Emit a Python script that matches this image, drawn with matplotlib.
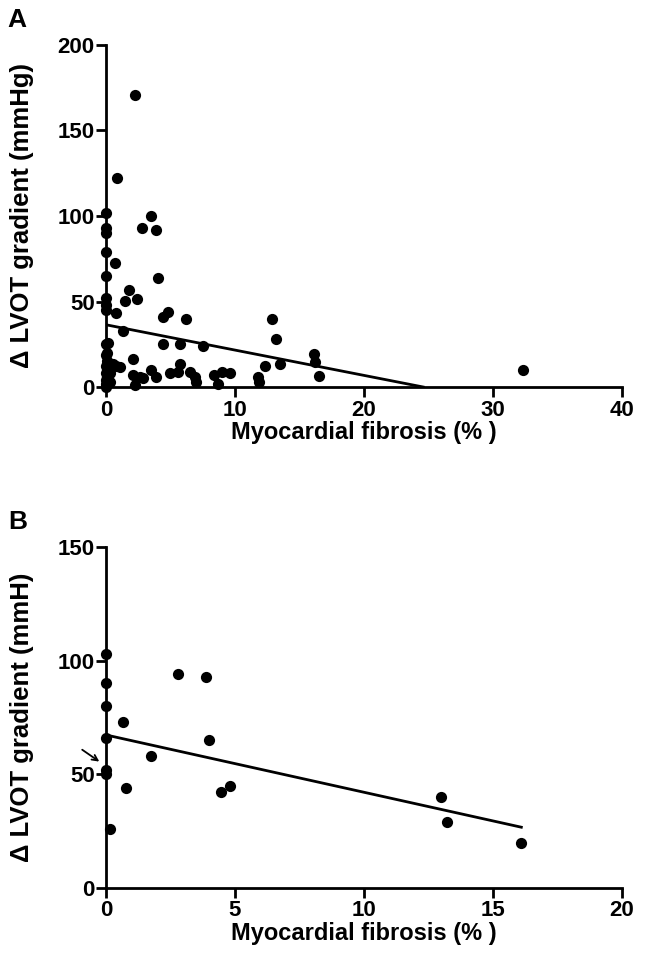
import numpy as np
import matplotlib
matplotlib.use("Agg")
import matplotlib.pyplot as plt

plt.rcParams['font.family'] = ['Liberation Sans', 'DejaVu Sans']

# === Panel A data: all patients ===
fibrosis_a = [2.25, 0.83, 0.0, 3.5, 2.8, 3.9, 0.0, 0.0, 0.0, 0.7, 0.0, 4.0, 1.8, 1.5, 2.4,
              0.0, 0.0, 0.0, 0.78, 4.4, 4.8, 6.2, 12.9, 13.2, 1.35, 0.0, 0.16, 4.4, 5.7, 7.5,
              0.0, 2.1, 0.2, 0.57, 1.1, 5.7, 12.3, 13.5, 2.1, 2.6, 2.9, 3.5, 3.9, 5.0,
              5.6, 6.5, 6.9, 7.0, 8.4, 9.0, 9.6, 8.7, 11.8, 11.9, 2.25, 16.1, 16.2, 16.5,
              32.3, 0.0, 0.0, 0.0, 0.1, 0.0, 0.2, 0.0, 0.1, 0.3, 0.3, 0.8, 0.1]
gradient_a = [171, 122, 102, 100, 93, 92, 93, 90, 79, 72.5, 65, 64, 57, 50.5, 51.5,
              52, 48, 45, 43, 41, 44, 40, 39.6, 28, 33, 25, 26, 25, 25, 24,
              18.5, 16.5, 14, 13.6, 11.7, 13.6, 12.3, 13.3, 7, 6, 5, 10, 6, 8.4,
              8.8, 8.8, 6, 3, 7, 8.8, 8.4, 2, 6, 3, 1, 19.5, 14.6, 6.4,
              10, 0, 2, 4, 6, 8, 10, 12, 15, 3, 8, 12, 20]

# === Panel B data: subgroup ===
fibrosis_b = [0.0, 0.0, 0.0, 0.0, 0.0, 0.0, 0.16, 0.65, 0.78, 1.74, 2.79, 3.89, 3.98,
              4.44, 4.82, 13.0, 13.2, 16.1]
gradient_b = [103, 90, 80, 66, 52, 50, 26, 73, 44, 58, 94, 93, 65, 42, 45, 40, 29, 20]

# regression lines (intercept, slope)
fit_a = (36.4, -1.48)
fit_b = (67.3, -2.52)


def style_axes(ax):
    for side in ['top', 'right']:
        ax.spines[side].set_visible(False)
    for side in ['left', 'bottom']:
        ax.spines[side].set_linewidth(2)
    ax.tick_params(direction='out', length=7, width=2, labelsize=16)
    ax.tick_params(axis='y', pad=1)
    ax.tick_params(axis='x', pad=2)
    for lab in ax.get_xticklabels() + ax.get_yticklabels():
        lab.set_fontweight('bold')


fig = plt.figure(figsize=(6.49, 9.69), dpi=100)

# === Panel A ===
axA = fig.add_axes([0.1633, 0.6006, 0.795, 0.353])
axA.scatter(fibrosis_a, gradient_a, s=65, color='black', zorder=3, clip_on=False, linewidths=0)
xa = np.array([0, min(max(fibrosis_a), -fit_a[0] / fit_a[1])])
axA.plot(xa, fit_a[0] + fit_a[1] * xa, color='black', lw=2)
axA.set_xlim(0, 40)
axA.set_ylim(0, 200)
axA.set_xticks([0, 10, 20, 30, 40])
axA.set_yticks([0, 50, 100, 150, 200])
style_axes(axA)
axA.set_xlabel("Myocardial fibrosis (% )", fontsize=17, fontweight='bold', va='top')
axA.xaxis.set_label_coords(0.5, -0.1)
axA.set_ylabel("\u0394 LVOT gradient (mmHg)", fontsize=18.5, fontweight='bold')
axA.yaxis.set_label_coords(-0.14, 0.5)
fig.text(0.012, 0.992, "A", fontsize=19, fontweight='bold', va='top')

# === Panel B ===
axB = fig.add_axes([0.1633, 0.0836, 0.795, 0.352])
axB.scatter(fibrosis_b, gradient_b, s=65, color='black', zorder=3, clip_on=False, linewidths=0)
xb = np.array([0, max(fibrosis_b)])
axB.plot(xb, fit_b[0] + fit_b[1] * xb, color='black', lw=2)
axB.set_xlim(0, 20)
axB.set_ylim(0, 150)
axB.set_xticks([0, 5, 10, 15, 20])
axB.set_yticks([0, 50, 100, 150])
style_axes(axB)
axB.set_xlabel("Myocardial fibrosis (% )", fontsize=17, fontweight='bold', va='top')
axB.xaxis.set_label_coords(0.5, -0.1)
axB.set_ylabel("\u0394 LVOT gradient (mmH)", fontsize=18.5, fontweight='bold')
axB.yaxis.set_label_coords(-0.14, 0.5)
axB.annotate("", xy=(-0.17, 54.9), xytext=(-1.01, 61.5),
             arrowprops=dict(arrowstyle='->', color='black', lw=1.3),
             annotation_clip=False)
fig.text(0.012, 0.474, "B", fontsize=19, fontweight='bold', va='top')

fig.savefig("out.png", dpi=100)
